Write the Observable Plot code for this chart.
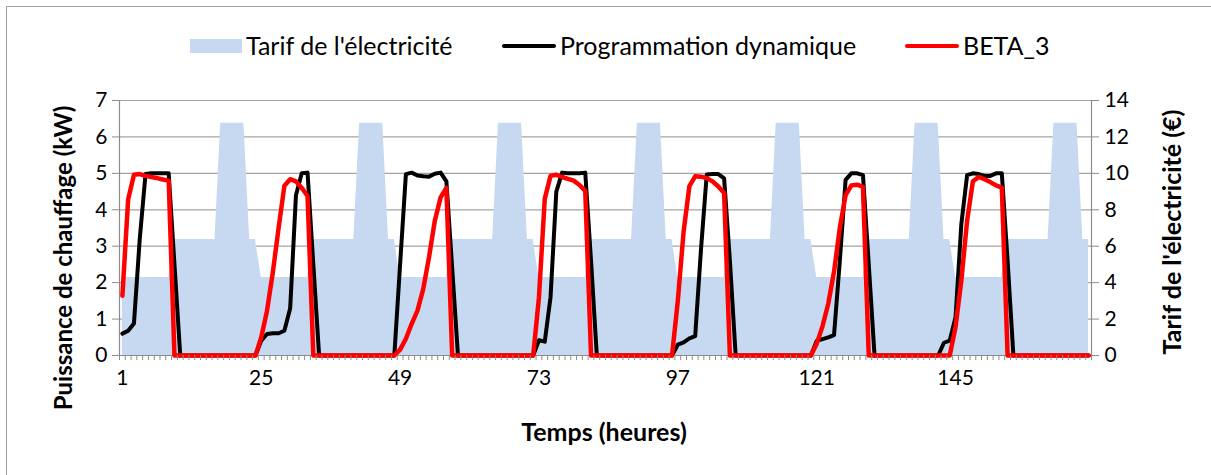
<!DOCTYPE html>
<html>
<head>
<meta charset="utf-8">
<script src="https://cdn.jsdelivr.net/npm/d3@7"></script>
<script src="https://cdn.jsdelivr.net/npm/@observablehq/plot@0.6"></script>
<style>
  body { margin: 0; background: #fff; }
  #wrap { position: relative; width: 1211px; height: 475px; overflow: hidden; font-family: Lato, "Liberation Sans", sans-serif; }
  #frame { position: absolute; left: 6px; top: 6px; width: 1230px; height: 480px; border: 1px solid #a0a0a0; box-sizing: border-box; }
  #chart { position: absolute; left: 0; top: 0; }
  .lg { position: absolute; font-size: 25px; color: #000; white-space: nowrap; line-height: 1; }
  .sw { position: absolute; }
</style>
</head>
<body>
<div id="wrap">
  <div id="frame"></div>
  <div id="chart"></div>
  <div id="legend"></div>
</div>
<script>
// ---- categories (hours) and tick labels ----
const hours = d3.range(1, 169);
const xTickLabels = [1, 25, 49, 73, 97, 121, 145];
const yLeftTicks = [0, 1, 2, 3, 4, 5, 6, 7];
const seriesNames = ["Tarif de l'électricité", "Programmation dynamique", "BETA_3"];

// ---- electricity tariff (€), one row per day ----
const tarif = [
  4.28,4.28,4.28,4.28,4.28,4.28,4.28,4.28,4.28,6.37,6.37,6.37,6.37,6.37,6.37,6.37,6.37,12.75,12.75,12.75,12.75,12.75,6.37,6.37,
  4.28,4.28,4.28,4.28,4.28,4.28,4.28,4.28,4.28,6.37,6.37,6.37,6.37,6.37,6.37,6.37,6.37,12.75,12.75,12.75,12.75,12.75,6.37,6.37,
  4.28,4.28,4.28,4.28,4.28,4.28,4.28,4.28,4.28,6.37,6.37,6.37,6.37,6.37,6.37,6.37,6.37,12.75,12.75,12.75,12.75,12.75,6.37,6.37,
  4.28,4.28,4.28,4.28,4.28,4.28,4.28,4.28,4.28,6.37,6.37,6.37,6.37,6.37,6.37,6.37,6.37,12.75,12.75,12.75,12.75,12.75,6.37,6.37,
  4.28,4.28,4.28,4.28,4.28,4.28,4.28,4.28,4.28,6.37,6.37,6.37,6.37,6.37,6.37,6.37,6.37,12.75,12.75,12.75,12.75,12.75,6.37,6.37,
  4.28,4.28,4.28,4.28,4.28,4.28,4.28,4.28,4.28,6.37,6.37,6.37,6.37,6.37,6.37,6.37,6.37,12.75,12.75,12.75,12.75,12.75,6.37,6.37,
  4.28,4.28,4.28,4.28,4.28,4.28,4.28,4.28,4.28,6.37,6.37,6.37,6.37,6.37,6.37,6.37,6.37,12.75,12.75,12.75,12.75,12.75,6.37,6.37
];

// ---- heating power (kW), Programmation dynamique ----
const progDyn = [
  0.6,0.68,0.88,3.2,4.98,5.0,5.0,5.0,5.0,2.5,0,0,0,0,0,0,0,0,0,0,0,0,0,0,
  0.41,0.59,0.61,0.61,0.68,1.3,4.4,5.0,5.02,2.5,0,0,0,0,0,0,0,0,0,0,0,0,0,0,
  2.5,4.98,5.02,4.94,4.92,4.91,4.99,5.02,4.78,2.4,0,0,0,0,0,0,0,0,0,0,0,0,0,0,
  0.42,0.38,1.6,4.5,5.02,5.0,5.0,5.0,5.02,2.6,0,0,0,0,0,0,0,0,0,0,0,0,0,0,
  0.3,0.36,0.47,0.53,2.9,4.97,4.98,4.98,4.86,2.6,0,0,0,0,0,0,0,0,0,0,0,0,0,0,
  0.4,0.45,0.5,0.56,2.6,4.82,5.0,5.0,4.95,2.5,0,0,0,0,0,0,0,0,0,0,0,0,0.35,0.41,
  1.05,3.6,4.95,5.0,4.98,4.93,4.93,5.0,5.0,2.6,0,0,0,0,0,0,0,0,0,0,0,0,0,0
];

// ---- heating power (kW), BETA_3 ----
const beta3 = [
  1.64,4.29,4.96,4.98,4.93,4.9,4.87,4.83,4.8,0,0,0,0,0,0,0,0,0,0,0,0,0,0,0,
  0.5,1.23,2.28,3.5,4.66,4.84,4.78,4.6,4.38,0,0,0,0,0,0,0,0,0,0,0,0,0,0,0,
  0.16,0.46,0.87,1.23,1.83,2.7,3.7,4.34,4.6,0,0,0,0,0,0,0,0,0,0,0,0,0,0,0,
  1.6,4.3,4.93,4.96,4.9,4.85,4.8,4.68,4.52,0,0,0,0,0,0,0,0,0,0,0,0,0,0,0,
  1.5,3.4,4.65,4.92,4.91,4.87,4.78,4.64,4.46,0,0,0,0,0,0,0,0,0,0,0,0,0,0,0,
  0.32,0.8,1.42,2.3,3.5,4.4,4.67,4.69,4.63,0,0,0,0,0,0,0,0,0,0,0,0,0,0,0,
  0.78,2.05,3.7,4.78,4.9,4.84,4.76,4.67,4.61,0,0,0,0,0,0,0,0,0,0,0,0,0,0,0
];

const colors = { tarif: "#c6d9f1", dp: "#000000", beta: "#ff0000" };
const rows = hours.map((h, i) => ({ h, tarif: tarif[i], dp: progDyn[i], beta: beta3[i] }));
// right axis (€) is twice the left axis (kW): 14 € <-> 7 kW
const ratio = 2;
const boundaries = d3.range(0, 169).map(i => i + 0.5);
const gray = "#8c8c8c";
const font = "Lato, 'Liberation Sans', sans-serif";

const plot = Plot.plot({
  width: 1211, height: 475,
  marginLeft: 119, marginRight: 120, marginTop: 100, marginBottom: 120,
  x: { type: "linear", domain: [0.5, 168.5] },
  y: { domain: [0, 7] },
  style: { fontFamily: font, color: "#000", background: "transparent", overflow: "visible" },
  marks: [
    Plot.ruleY(yLeftTicks, { stroke: "#a3a3a3", strokeWidth: 1.2 }),
    Plot.areaY(rows, { x: "h", y: d => d.tarif / ratio, fill: colors.tarif, curve: "linear" }),
    Plot.ruleY([0], { stroke: gray, strokeWidth: 1.2 }),
    Plot.ruleX([0.5, 168.5], { y1: 0, y2: 7, stroke: gray, strokeWidth: 1.2 }),
    Plot.lineY(rows, { x: "h", y: "dp", stroke: colors.dp, strokeWidth: 4, strokeLinejoin: "round", strokeLinecap: "round" }),
    Plot.lineY(rows, { x: "h", y: "beta", stroke: colors.beta, strokeWidth: 4.5, strokeLinejoin: "round", strokeLinecap: "round" }),
    Plot.axisY({ anchor: "left", ticks: yLeftTicks, tickFormat: d => String(d), tickSize: 7, tickPadding: 5, fontSize: 21, stroke: gray, label: null }),
    Plot.axisY({ anchor: "right", ticks: yLeftTicks, tickFormat: d => String(d * ratio), tickSize: 7, tickPadding: 6, fontSize: 21, stroke: gray, label: null }),
    Plot.axisX({ ticks: boundaries, tickSize: 5, tickFormat: () => "", stroke: gray, label: null }),
    Plot.axisX({ ticks: xTickLabels, tickSize: 0, tickPadding: 15, fontSize: 21, tickFormat: d => String(d), label: null })
  ]
});
document.getElementById("chart").appendChild(plot);

// axis titles
const svg = d3.select(plot);
svg.append("text").text("Puissance de chauffage (kW)")
  .attr("transform", "translate(72,258) rotate(-90)")
  .attr("text-anchor", "middle").attr("font-weight", "bold").attr("font-size", 24)
  .attr("font-family", font).attr("fill", "#000");
svg.append("text").text("Tarif de l'électricité (€)")
  .attr("transform", "translate(1181,232) rotate(-90)")
  .attr("text-anchor", "middle").attr("font-weight", "bold").attr("font-size", 25)
  .attr("font-family", font).attr("fill", "#000");
svg.append("text").text("Temps (heures)")
  .attr("x", 604).attr("y", 441)
  .attr("text-anchor", "middle").attr("font-weight", "bold").attr("font-size", 25)
  .attr("font-family", font).attr("fill", "#000");

// legend
const lg = d3.select("#legend");
const items = [
  { name: seriesNames[0], kind: "box", color: colors.tarif, sx: 190, tx: 246 },
  { name: seriesNames[1], kind: "line", color: colors.dp, sx: 502, tx: 560 },
  { name: seriesNames[2], kind: "line", color: colors.beta, sx: 905, tx: 963 }
];
items.forEach(it => {
  if (it.kind === "box") {
    lg.append("div").attr("class", "sw").style("left", it.sx + "px").style("top", "39px")
      .style("width", "52px").style("height", "14px").style("background", it.color);
  } else {
    lg.append("div").attr("class", "sw").style("left", it.sx + "px").style("top", "44px")
      .style("width", "54px").style("height", "4px").style("border-radius", "2px").style("background", it.color);
  }
  lg.append("div").attr("class", "lg").style("left", it.tx + "px").style("top", "33px").text(it.name);
});
</script>
</body>
</html>
